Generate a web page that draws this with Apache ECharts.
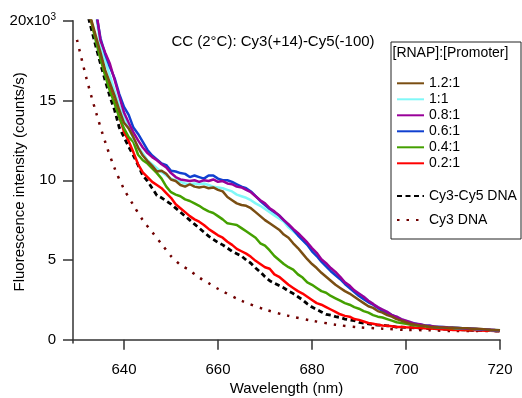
<!DOCTYPE html>
<html><head><meta charset="utf-8">
<script src="https://cdn.jsdelivr.net/npm/echarts@6/dist/echarts.min.js"></script>
<style>html,body{margin:0;padding:0;background:#fff}#c{width:522px;height:398px}</style>
</head><body><div id="c"></div>
<script>
// wavelengths (nm) for the RNAP titration and Cy3-Cy5 DNA traces
const wavelengths = [632,633,634,635,636,637,638,639,640,641,642,643,644,645,646,647,648,649,650,651,652,653,654,655,656,657,658,659,660,661,662,663,664,665,666,667,668,669,670,671,672,673,674,675,676,677,678,679,680,681,682,683,684,685,686,687,688,689,690,691,692,693,694,695,696,697,698,699,700,701,702,703,704,705,706,707,708,709,710,711,712,713,714,715,716,717,718,719,720];
// intensities in units of 10^3 counts/s
const r12 = [21.3,20.1,19.05,18.0,16.9,16.1,15.3,14.4,13.6,13.25,12.7,12.05,11.55,11.2,10.9,10.55,10.6,10.4,10.05,9.95,9.7,9.6,9.75,9.6,9.55,9.6,9.5,9.55,9.4,9.3,8.95,8.75,8.55,8.45,8.4,8.25,8.0,7.75,7.5,7.3,7.1,6.9,6.6,6.4,6.05,5.75,5.4,5.05,4.75,4.5,4.2,3.95,3.7,3.45,3.25,3.05,2.9,2.7,2.5,2.3,2.1,2.0,1.8,1.7,1.55,1.45,1.3,1.2,1.1,1.0,0.95,0.9,0.88,0.82,0.8,0.78,0.77,0.76,0.75,0.74,0.73,0.72,0.7,0.69,0.67,0.65,0.63,0.62,0.6];
const r10 = [24.0,22.5,20.5,18.4,17.5,16.55,15.6,14.7,13.9,13.25,12.6,12.1,11.7,11.25,11.0,10.75,10.5,10.3,10.1,10.0,9.9,9.8,9.75,9.8,9.75,9.8,9.7,9.6,9.55,9.5,9.4,9.3,9.1,9.0,8.9,8.75,8.55,8.4,8.2,8.0,7.8,7.6,7.4,7.05,6.8,6.55,6.25,5.95,5.6,5.3,5.0,4.7,4.45,4.1,3.9,3.6,3.3,3.1,2.85,2.7,2.45,2.25,2.05,1.9,1.75,1.55,1.45,1.3,1.2,1.1,1.02,0.96,0.92,0.88,0.84,0.82,0.8,0.78,0.76,0.74,0.72,0.7,0.69,0.67,0.66,0.64,0.62,0.61,0.6];
const r08 = [24.5,22.6,20.8,18.75,18.0,17.3,16.3,15.25,14.25,13.6,13.0,12.5,12.05,11.7,11.45,11.25,11.0,10.8,10.45,10.2,10.05,10.0,9.95,10.0,9.9,10.0,9.95,10.05,9.9,9.95,9.8,9.75,9.6,9.55,9.4,9.25,9.0,8.75,8.55,8.25,8.05,7.8,7.5,7.25,6.95,6.7,6.4,6.1,5.75,5.45,5.05,4.8,4.5,4.25,3.95,3.6,3.4,3.1,2.9,2.7,2.45,2.25,2.05,1.9,1.75,1.55,1.45,1.3,1.2,1.1,1.0,0.97,0.9,0.88,0.84,0.8,0.8,0.77,0.75,0.74,0.72,0.7,0.7,0.68,0.66,0.64,0.63,0.61,0.6];
const r06 = [24.0,22.8,20.6,18.9,17.9,17.1,16.4,15.4,14.6,14.1,13.3,12.9,12.4,11.9,11.55,11.3,11.05,10.95,10.6,10.55,10.45,10.4,10.2,10.3,10.2,10.1,10.3,10.3,10.1,10.0,10.0,9.9,9.75,9.6,9.5,9.3,9.0,8.7,8.45,8.2,8.0,7.8,7.5,7.2,6.9,6.55,6.25,5.95,5.55,5.25,4.9,4.6,4.3,4.05,3.8,3.5,3.25,3.0,2.75,2.55,2.35,2.2,2.0,1.8,1.65,1.55,1.4,1.25,1.15,1.05,1.0,0.95,0.9,0.88,0.8,0.8,0.78,0.76,0.75,0.74,0.72,0.71,0.7,0.68,0.65,0.64,0.62,0.6,0.6];
const r04 = [21.3,20.0,18.75,17.6,16.55,15.6,14.8,13.95,13.25,12.7,12.4,11.6,11.25,11.05,10.75,10.45,10.1,9.6,9.25,9.1,9.0,8.8,8.7,8.55,8.4,8.2,8.05,7.95,7.75,7.55,7.3,7.25,7.2,7.0,6.8,6.6,6.4,6.05,5.9,5.6,5.25,5.0,4.75,4.55,4.4,4.1,3.9,3.6,3.45,3.25,3.05,2.95,2.75,2.6,2.45,2.3,2.2,2.05,1.95,1.8,1.7,1.55,1.45,1.4,1.3,1.2,1.1,1.05,1.0,0.95,0.9,0.88,0.85,0.8,0.78,0.76,0.75,0.74,0.72,0.7,0.7,0.68,0.67,0.66,0.64,0.63,0.61,0.6,0.58];
const r02 = [21.2,20.0,18.9,17.8,16.7,15.75,14.9,14.0,13.05,12.45,11.75,11.0,10.5,10.2,9.9,9.7,9.5,9.2,8.9,8.5,8.25,8.0,7.75,7.55,7.4,7.2,6.95,6.75,6.55,6.4,6.15,5.95,5.7,5.55,5.4,5.2,4.95,4.75,4.55,4.45,4.1,3.95,3.7,3.45,3.25,3.05,2.9,2.7,2.5,2.3,2.2,2.05,1.9,1.75,1.6,1.5,1.45,1.3,1.25,1.15,1.05,1.0,0.95,0.9,0.88,0.85,0.8,0.8,0.78,0.77,0.75,0.74,0.72,0.71,0.7,0.68,0.65,0.64,0.62,0.62,0.61,0.6,0.6,0.6,0.58,0.57,0.56,0.55,0.55];
const cy3cy5 = [20.7,19.55,18.4,17.3,16.25,15.25,14.4,13.3,12.7,12.1,11.55,10.95,10.3,9.95,9.5,9.05,8.9,8.7,8.5,8.25,8.0,7.75,7.5,7.25,7.0,6.75,6.5,6.3,6.1,5.95,5.75,5.55,5.4,5.25,5.0,4.8,4.5,4.25,3.95,3.7,3.55,3.4,3.25,3.05,2.9,2.7,2.5,2.25,2.05,1.9,1.75,1.6,1.55,1.45,1.4,1.3,1.25,1.2,1.1,1.05,1.0,0.95,0.92,0.92,0.88,0.85,0.8,0.8,0.78,0.76,0.75,0.74,0.72,0.7,0.7,0.68,0.67,0.66,0.65,0.64,0.63,0.62,0.6,0.6,0.59,0.58,0.57,0.56,0.55];
// Cy3-only DNA trace
const cy3Wavelengths = [630,632,634,636,638,640,642,644,646,648,650,652,654,656,658,660,665,670,675,680,685,690,695,700,705,710,715,720];
const cy3 = [18.8,16.4,14.3,12.4,10.75,9.45,8.44,7.5,6.75,6.0,5.25,4.7,4.35,3.9,3.55,3.2,2.45,1.9,1.5,1.2,0.95,0.78,0.7,0.62,0.6,0.55,0.55,0.55];

const ratioNames = ['1.2:1','1:1','0.8:1','0.6:1','0.4:1','0.2:1'];
const xTicks = [640,660,680,700,720];
const yTicks = [0,5,10,15,20];

const FONT = "'Liberation Sans', Arial, sans-serif";
const pairs = (xs, ys) => xs.map((x, i) => [x, ys[i]]);

const solid = (name, data, color) => ({
  name, type: 'line', data: pairs(wavelengths, data), symbol: 'none', showSymbol: false,
  lineStyle: { color, width: 2.5 }, itemStyle: { color }, clip: true, animation: false
});

const series = [
  { name: 'Cy3 DNA', type: 'line', data: pairs(cy3Wavelengths, cy3), symbol: 'none', smooth: 0.3,
    lineStyle: { color: '#700000', width: 2.5, type: [2.5, 7] }, itemStyle: { color: '#700000' }, clip: true, animation: false },
  { name: 'Cy3-Cy5 DNA', type: 'line', data: pairs(wavelengths, cy3cy5), symbol: 'none',
    lineStyle: { color: '#000000', width: 2.8, type: [5, 3.5] }, itemStyle: { color: '#000000' }, clip: true, animation: false },
  solid('0.2:1', r02, '#ff0000'),
  solid('0.4:1', r04, '#44a000'),
  solid('1:1', r10, '#80f8f8'),
  solid('0.6:1', r06, '#1040d0'),
  solid('0.8:1', r08, '#990099'),
  solid('1.2:1', r12, '#7a4e12')
];

const legendBase = {
  orient: 'vertical', left: 396, itemWidth: 27, itemHeight: 14, itemGap: 2, padding: 0,
  selectedMode: false, itemStyle: { opacity: 0 },
  textStyle: { fontSize: 14, fontFamily: FONT, color: '#000', lineHeight: 14 }
};

const chart = echarts.init(document.getElementById('c'), null, { renderer: 'canvas' });
chart.setOption({
  animation: false,
  backgroundColor: '#fff',
  grid: { left: 73, right: 22, top: 20.7, bottom: 55, outerBoundsMode: 'none' },
  xAxis: {
    type: 'value', min: 629.15, max: 720,
    name: 'Wavelength (nm)', nameLocation: 'middle', nameGap: 38, nameMoveOverlap: false,
    nameTextStyle: { fontSize: 15, fontFamily: FONT, color: '#000' },
    axisLine: { show: true, lineStyle: { color: '#333', width: 1.5 } },
    axisTick: { show: true, length: 10, lineStyle: { color: '#333', width: 1.5 }, customValues: xTicks },
    axisLabel: { fontSize: 15, fontFamily: FONT, color: '#000', margin: 19, customValues: xTicks },
    splitLine: { show: false }
  },
  yAxis: {
    type: 'value', min: -0.2, max: 20,
    name: 'Fluorescence intensity (counts/s)', nameLocation: 'middle', nameGap: 46, nameRotate: 90, nameMoveOverlap: false,
    nameTextStyle: { fontSize: 15, fontFamily: FONT, color: '#000' },
    axisLine: { show: true, lineStyle: { color: '#333', width: 1.5 } },
    axisTick: { show: true, length: 10, lineStyle: { color: '#333', width: 1.5 }, customValues: yTicks },
    axisLabel: {
      fontSize: 15, fontFamily: FONT, color: '#000', margin: 17, customValues: yTicks,
      formatter: v => v === 20 ? '{a|20x10}{s|3}' : String(v),
      rich: {
        a: { fontSize: 15, fontFamily: FONT, color: '#000', lineHeight: 17 },
        s: { fontSize: 10, fontFamily: FONT, color: '#000', lineHeight: 7, verticalAlign: 'top' }
      }
    },
    splitLine: { show: false }
  },
  legend: [
    Object.assign({}, legendBase, { data: ratioNames, top: 76.3 }),
    Object.assign({}, legendBase, { data: ['Cy3-Cy5 DNA'], top: 189 }),
    Object.assign({}, legendBase, { data: ['Cy3 DNA'], top: 213 })
  ],
  graphic: [
    { type: 'rect', shape: { x: 391, y: 42, width: 130, height: 197 }, style: { fill: 'none', stroke: '#222', lineWidth: 1 }, z: 100 },
    { type: 'text', x: 392.5, y: 53, style: { text: '[RNAP]:[Promoter]', font: '14px ' + FONT, fill: '#000', align: 'left', verticalAlign: 'middle' }, z: 100 },
    { type: 'text', x: 273, y: 42, style: { text: 'CC (2°C): Cy3(+14)-Cy5(-100)', font: '15px ' + FONT, fill: '#000', align: 'center', verticalAlign: 'middle' }, z: 100 }
  ],
  series
});
</script>
</body></html>
